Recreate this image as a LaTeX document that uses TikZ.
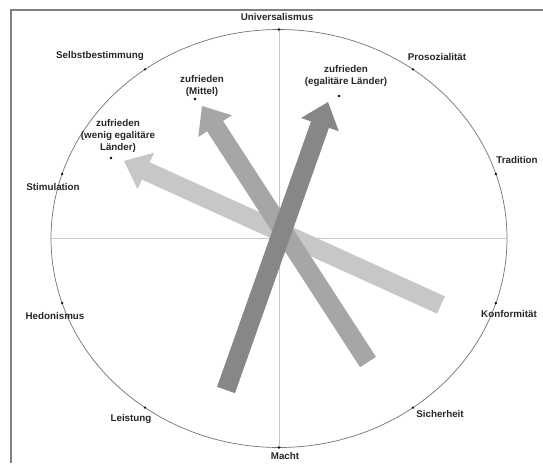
\documentclass[tikz,border=0pt]{standalone}
\usepackage{fontspec}
\setmainfont{Liberation Sans}
\usetikzlibrary{calc}

\begin{document}
\begin{tikzpicture}[x=1pt,y=-1pt,
        wert/.style={font=\fontsize{9.8}{12}\selectfont\bfseries,text=black!85,inner sep=0pt,align=center},
        punkt/.style={circle,fill=black,inner sep=0pt,minimum size=2.6pt},
        achse/.style={draw=black!22,line width=0.6pt}]
        \useasboundingbox (0,0) rectangle (543,463);
        \draw[black!50,line width=2pt] (11,463) -- (11,10) -- (543,10); % frame
        \coordinate (c) at (279,238.5);
        \draw[black!55,line width=0.7pt] (c) ellipse [x radius=228, y radius=209];
        \coordinate (links) at ($(c)+(-228,0)$);
        \coordinate (rechts) at ($(c)+(228,0)$);
        % the ten values on the circle
        \foreach \n/\w in {uni/-90,pro/-54,tra/-18,kon/18,sic/54,mac/90,lei/126,hed/162,sti/198,sel/234}
        \node[punkt] (\n) at ($(c)+(\w:228 and 209)$) {};
        \draw[achse] (uni) -- (mac);
        \draw[achse] (links) -- (rechts);
        \node[wert] (tuni) at (277,17) {Universalismus};
        \node[wert] (tsel) at (100,56) {Selbstbestimmung};
        \node[wert] (tpro) at (437,57) {Prosozialität};
        \node[wert] (ttra) at (517,160) {Tradition};
        \node[wert] (tsti) at (53,187) {Stimulation};
        \node[wert] (thed) at (55,316) {Hedonismus};
        \node[wert] (tkon) at (509,314) {Konformität};
        \node[wert] (tlei) at (131,419) {Leistung};
        \node[wert] (tsic) at (440,414) {Sicherheit};
        \node[wert] (tmac) at (285,456) {Macht};
        % arrows: tail 0, tip 1
        \coordinate (wen0) at (441,305); \coordinate (wen1) at (124,161);
        \coordinate (mit0) at (368,362); \coordinate (mit1) at (202,106);
        \coordinate (ega0) at (226,390); \coordinate (ega1) at (328,102);
        \foreach \a/\f in {wen/black!22,mit/black!35,ega/black!47}{
        \coordinate (b) at ($(\a1)!24pt!(\a0)$);
        \fill[\f] ($(\a0)!9.5pt!90:(\a1)$) -- ($(b)!9.5pt!90:(\a1)$) -- ($(b)!20pt!90:(\a1)$)
        -- (\a1) -- ($(b)!20pt!-90:(\a1)$) -- ($(b)!9.5pt!-90:(\a1)$) -- ($(\a0)!9.5pt!-90:(\a1)$) -- cycle;
        }
        % satisfied groups
        \node[punkt] (mit) at (195,99) {};
        \node[punkt] (ega) at (339,96) {};
        \node[punkt] (wen) at (111,158) {};
        \node[wert] (tmit) at (202,86) {zufrieden\\(Mittel)};
        \node[wert] (tega) at (346,76) {zufrieden\\(egalitäre Länder)};
        \node[wert] (twen) at (118,136) {zufrieden\\(wenig egalitäre\\Länder)};
\end{tikzpicture}
\end{document}
